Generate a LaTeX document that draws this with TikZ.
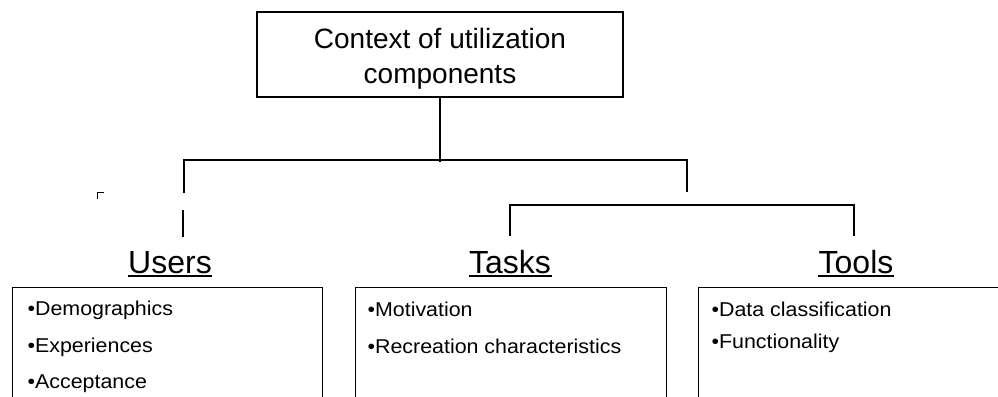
\documentclass[tikz,border=0pt]{standalone}
\usepackage{fontspec}
\setmainfont{Liberation Sans}
\newfontfamily\bodyf[FakeStretch=1.07]{Liberation Sans}
\begin{document}
\begin{tikzpicture}[x=1pt,y=-1pt,line width=1.2pt,
  box/.style={draw,line width=1.2pt,inner sep=0pt},
  ttl/.style={font=\fontsize{32}{38}\selectfont,inner sep=0pt,anchor=base},
  itm/.style={font=\bodyf\fontsize{20}{22}\selectfont,inner sep=0pt,anchor=base west},
  uline/.style={line width=1.6pt}]
\useasboundingbox (0,0) rectangle (998,396);
\clip (0,0) rectangle (998,396);
% top box
\node[box,minimum width=366pt,minimum height=85pt] (ctx) at (440,54.5) {};
\node[align=center,inner sep=0pt,font=\fontsize{28}{35}\selectfont] (ctxt) at (440,58.5) {Context of utilization\\components};
% connectors
\coordinate (jb) at (440,162);
\coordinate (hl) at (184,160);
\coordinate (hr) at (687,160);
\coordinate (dl) at (184,193);
\coordinate (dr) at (687,192);
\draw (ctx.south) -- (jb);
\draw (dl) -- (hl) -- (hr) -- (dr);
\coordinate (b1) at (510,236);
\coordinate (b2) at (510,205);
\coordinate (b3) at (854,205);
\coordinate (b4) at (854,236);
\draw (b1) -- (b2) -- (b3) -- (b4);
\coordinate (s1) at (183,210);
\coordinate (s2) at (183,237);
\draw (s1) -- (s2);
\coordinate (m1) at (97.5,199);
\coordinate (m2) at (97.5,192.5);
\coordinate (m3) at (104,192.5);
\draw[line width=1.4pt] (m1) -- (m2) -- (m3);
% titles
\node[ttl] (users) at (170,273) {Users};
\node[ttl] (tasks) at (510,273) {Tasks};
\node[ttl] (tools) at (856,273) {Tools};
\foreach \t in {users,tasks,tools}
  \draw[uline] ([yshift=-3pt]\t.base west) -- ([yshift=-3pt]\t.base east);
% boxes
\node[box,minimum width=310pt,minimum height=200pt,anchor=north west] (ub) at (12,287) {};
\node[box,minimum width=311pt,minimum height=200pt,anchor=north west] (tb) at (355,287) {};
\node[box,minimum width=330pt,minimum height=200pt,anchor=north west] (ob) at (698,287) {};
% items
\node[itm] (u1) at (27,315) {•Demographics};
\node[itm] (u2) at (27,352) {•Experiences};
\node[itm] (u3) at (27,388) {•Acceptance};
\node[itm] (t1) at (367,316) {•Motivation};
\node[itm] (t2) at (367,353) {•Recreation characteristics};
\node[itm] (o1) at (711,316) {•Data classification};
\node[itm] (o2) at (711,348) {•Functionality};
\end{tikzpicture}
\end{document}
